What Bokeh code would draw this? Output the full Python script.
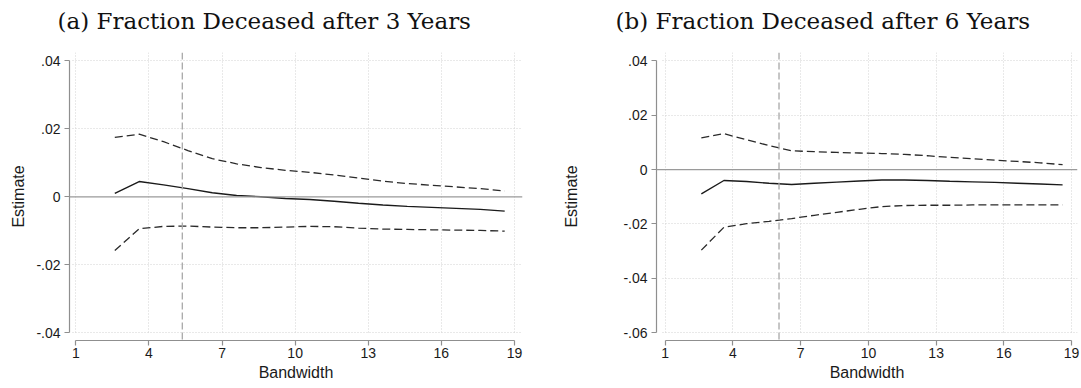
from bokeh.plotting import figure
from bokeh.layouts import row
from bokeh.models import FixedTicker, Span, Title, Range1d, Grid
from bokeh.embed import file_html
from bokeh.resources import INLINE

# Bandwidths at which the RD estimate was computed
bandwidth = [2.6, 3.6, 4.6, 5.6, 6.6, 7.6, 8.6, 9.6, 10.6, 11.6, 12.6, 13.6, 14.6, 15.6, 16.6, 17.6, 18.6]

# (a) fraction deceased after 3 years: point estimate and 95% CI bounds
est_3y = [0.0010, 0.0045, 0.0035, 0.0024, 0.0012, 0.0004, 0.0000, -0.0005, -0.0008, -0.0013,
          -0.0019, -0.0024, -0.0028, -0.0031, -0.0034, -0.0037, -0.0042]
hi_3y = [0.0175, 0.0184, 0.0162, 0.0136, 0.0112, 0.0097, 0.0086, 0.0078, 0.0072, 0.0064,
         0.0055, 0.0046, 0.0039, 0.0034, 0.0029, 0.0024, 0.0017]
lo_3y = [-0.0158, -0.0094, -0.0087, -0.0086, -0.0089, -0.0091, -0.0091, -0.0089, -0.0087, -0.0088,
         -0.0092, -0.0095, -0.0096, -0.0097, -0.0098, -0.0099, -0.0101]

# (b) fraction deceased after 6 years
est_6y = [-0.0089, -0.0040, -0.0044, -0.0050, -0.0055, -0.0050, -0.0046, -0.0042, -0.0038, -0.0038,
          -0.0040, -0.0043, -0.0045, -0.0047, -0.0050, -0.0053, -0.0056]
hi_6y = [0.0117, 0.0132, 0.0110, 0.0088, 0.0069, 0.0066, 0.0063, 0.0061, 0.0059, 0.0056,
         0.0051, 0.0045, 0.0040, 0.0035, 0.0030, 0.0025, 0.0018]
lo_6y = [-0.0296, -0.0212, -0.0199, -0.0190, -0.0180, -0.0168, -0.0157, -0.0146, -0.0136, -0.0132,
         -0.0131, -0.0131, -0.0130, -0.0130, -0.0130, -0.0130, -0.0130]

# Optimal (data-driven) bandwidths, marked by a vertical reference line
opt_bw_3y = 5.37
opt_bw_6y = 6.04

# Axis ticks and their labels
x_ticks = [1, 4, 7, 10, 13, 16, 19]
y_ticks_3y = [-0.04, -0.02, 0, 0.02, 0.04]
y_labels_3y = ["-.04", "-.02", "0", ".02", ".04"]
y_ticks_6y = [-0.06, -0.04, -0.02, 0, 0.02, 0.04]
y_labels_6y = ["-.06", "-.04", "-.02", "0", ".02", ".04"]

titles = ["(a) Fraction Deceased after 3 Years", "(b) Fraction Deceased after 6 Years"]

AXIS_GREY = "#8f8f8f"
GRID_GREY = "#d2d2d2"
SANS = "Liberation Sans"


def make_panel(title, est, lo, hi, opt_bw, y_ticks, y_labels, x_range, y_range,
               frame_w, border_l, border_r, title_offset, ylab_standoff):
    p = figure(frame_width=frame_w, frame_height=288,
               min_border_left=border_l, min_border_right=border_r,
               min_border_top=52, min_border_bottom=48,
               x_range=Range1d(*x_range), y_range=Range1d(*y_range),
               output_backend="svg", toolbar_location=None,
               background_fill_color="white", border_fill_color="white")
    p.outline_line_color = None

    # grid lines at the tick positions, dotted
    p.xgrid.ticker = FixedTicker(ticks=x_ticks)
    p.ygrid.ticker = FixedTicker(ticks=[t for t in y_ticks if t != 0])
    for g in (p.xgrid[0], p.ygrid[0]):
        g.grid_line_color = GRID_GREY
        g.grid_line_dash = "1 2"
        g.grid_line_width = 1
    p.xgrid.bounds = (x_ticks[0] - 0.1, x_ticks[-1] + 0.1)
    p.ygrid.bounds = (y_ticks[0] - 0.001, y_ticks[-1] + 0.001)
    if "cross_bounds" in Grid.properties():
        p.xgrid.cross_bounds = (y_ticks[0], y_range[1])
        p.ygrid.cross_bounds = (x_ticks[0] - 0.13, x_range[1])

    # axes
    xa, ya = p.xaxis[0], p.yaxis[0]
    xa.ticker = FixedTicker(ticks=x_ticks)
    ya.ticker = FixedTicker(ticks=y_ticks)
    ya.major_label_overrides = {t: l for t, l in zip(y_ticks, y_labels)}
    xa.bounds = (x_ticks[0], x_ticks[-1])
    ya.bounds = (y_ticks[0], y_ticks[-1])
    xa.axis_label = "Bandwidth"
    ya.axis_label = "Estimate"
    for ax in (xa, ya):
        ax.axis_line_color = AXIS_GREY
        ax.axis_line_width = 1.2
        ax.major_tick_line_color = AXIS_GREY
        ax.major_tick_line_width = 1.2
        ax.major_tick_out = 5
        ax.major_tick_in = 0
        ax.minor_tick_line_color = None
        ax.major_label_text_font = SANS
        ax.major_label_text_font_size = "14px"
        ax.major_label_text_color = "#1a1a1a"
        ax.axis_label_text_font = SANS
        ax.axis_label_text_font_size = "16px"
        ax.axis_label_text_font_style = "normal"
        ax.axis_label_text_color = "#1a1a1a"
    xa.major_label_standoff = 2
    xa.axis_label_standoff = 3
    ya.major_label_standoff = 4
    ya.axis_label_standoff = ylab_standoff

    # reference lines: zero effect and optimal bandwidth
    p.add_layout(Span(location=0, dimension="width", line_color="#9a9a9a", line_width=1.3))
    p.add_layout(Span(location=opt_bw, dimension="height", line_color="#a8a8a8",
                      line_width=1.3, line_dash="7 3"))

    # estimate and confidence bounds
    p.line(bandwidth, hi, line_color="#2a2a2a", line_width=1.3, line_dash="8 4")
    p.line(bandwidth, lo, line_color="#2a2a2a", line_width=1.3, line_dash="8 4")
    p.line(bandwidth, est, line_color="#1a1a1a", line_width=1.4)

    # thin spacer panel between the frame and the caption, then the caption itself
    p.add_layout(Title(text=" ", text_font_size="1px", standoff=16), "above")
    p.add_layout(Title(text=title, align="left", offset=title_offset,
                       text_font="DejaVu Serif", text_font_size="23px",
                       text_font_style="normal", text_color="#111111",
                       standoff=0), "above")
    return p


p1 = make_panel(titles[0], est_3y, lo_3y, hi_3y, opt_bw_3y, y_ticks_3y, y_labels_3y,
                (0.741, 19.33), (-0.04226, 0.04244), 453, 69, 38, -12, 6)
p2 = make_panel(titles[1], est_6y, lo_6y, hi_6y, opt_bw_6y, y_ticks_6y, y_labels_6y,
                (0.614, 19.26), (-0.06283, 0.04305), 421, 93, 7, -41, 40)

layout = row(p1, p2, spacing=0)
open("out.html", "w").write(file_html(layout, INLINE))
